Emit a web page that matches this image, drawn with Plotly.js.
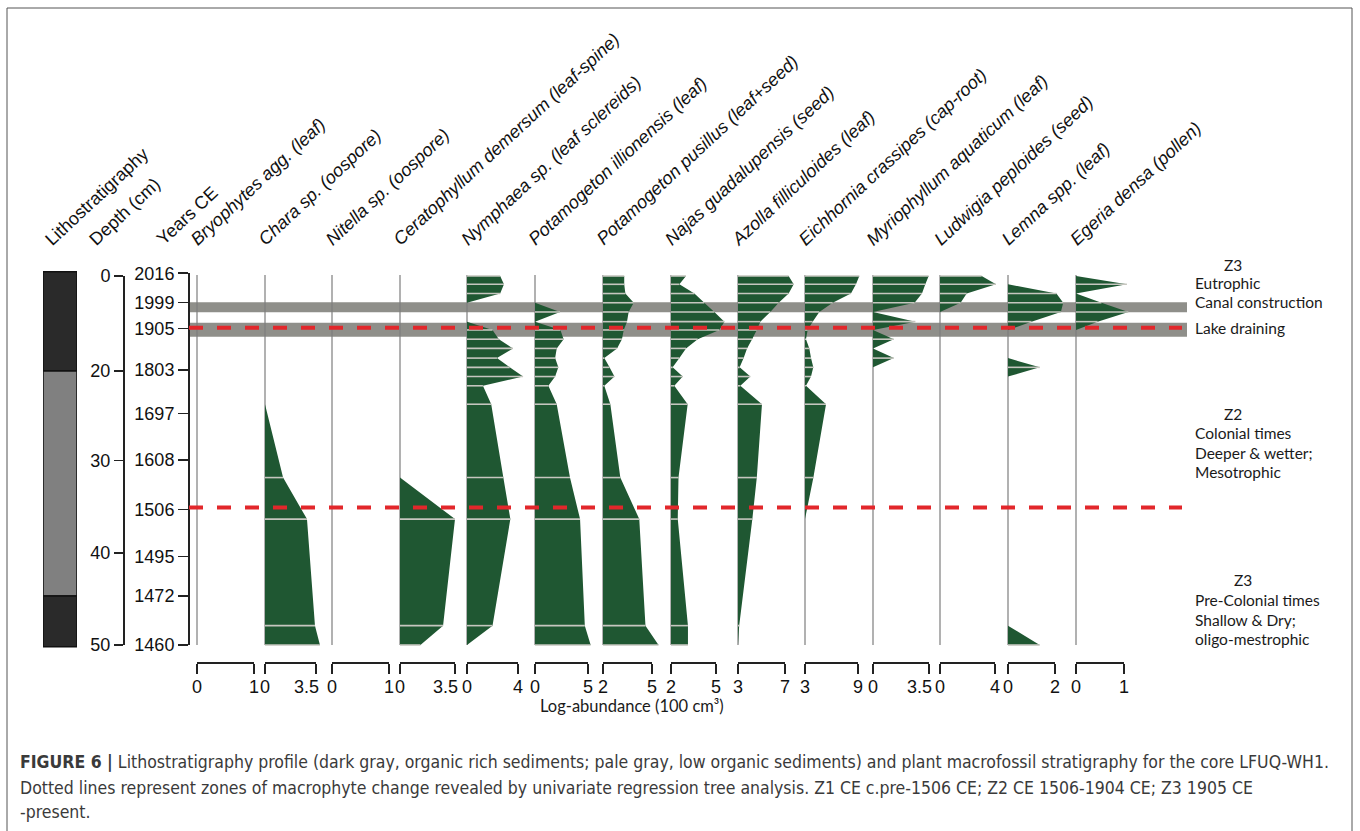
<!DOCTYPE html>
<html><head><meta charset="utf-8">
<script src="https://cdn.plot.ly/plotly-3.0.1.min.js"></script>
<style>html,body{margin:0;padding:0;background:#fff}#chart{width:1360px;height:831px}</style>
</head><body><div id="chart"></div>
<script>
// ---------------- DATA ----------------
// plotted depth position of each sample (chart units, 0 = top of core, 40 = base)
const sampleDepth = [0, 0.9, 1.9, 2.9, 3.9, 4.95, 5.85, 6.85, 7.85, 8.9, 9.9, 10.9, 11.9, 13.9, 21.85, 26.35, 37.9, 40];

const taxa = [
  'Bryophytes agg. (leaf)', 'Chara sp. (oospore)', 'Nitella sp. (oospore)',
  'Ceratophyllum demersum (leaf-spine)', 'Nymphaea sp. (leaf sclereids)',
  'Potamogeton illionensis (leaf)', 'Potamogeton pusillus (leaf+seed)',
  'Najas guadalupensis (seed)', 'Azolla filliculoides (leaf)',
  'Eichhornia crassipes (cap-root)', 'Myriophyllum aquaticum (leaf)',
  'Ludwigia peploides (seed)', 'Lemna spp. (leaf)', 'Egeria densa (pollen)'
];
const scaleMin = [0, 0, 0, 0, 0, 0, 2, 2, 3, 3, 0, 0, 0, 0];
const scaleMax = [1, 3.5, 1, 3.5, 4, 5, 5, 5, 7, 9, 3.5, 4, 2, 1];
const scaleMinLabel = ['0','0','0','0','0','0','2','2','3','3','0','0','0','0'];
const scaleMaxLabel = ['1','3.5','1','3.5','4','5','5','5','7','9','3.5','4','2','1'];

// log-abundance at each sample depth
const bryophytes    = [0,0,0,0,0,0,0,0,0,0,0,0,0,0,0,0,0,0];
const chara         = [0,0,0,0,0,0,0,0,0,0,0,0,0,0,1.24,2.88,3.43,3.77];
const nitella       = [0,0,0,0,0,0,0,0,0,0,0,0,0,0,0,0,0,0];
const ceratophyllum = [0,0,0,0,0,0,0,0,0,0,0,0,0,0,0,3.5,2.74,1.3];
const nymphaea      = [2.6,2.9,2.6,0,0,0,2.0,2.5,3.6,2.35,3.35,4.4,1.25,1.9,2.85,3.4,2.0,0];
const pIllionensis  = [0,0,0,0,2.36,0,2.4,2.7,2.05,1.9,2.2,1.9,1.26,2.05,3.3,4.25,4.7,5.25];
const pPusillus     = [3.3,3.3,3.37,3.88,3.57,3.47,3.27,3.16,2.86,2.08,2.4,2.7,2.08,2.45,3.06,4.22,4.6,5.4];
const najas         = [3.0,2.56,3.56,4.22,4.89,5.56,5.22,3.78,3.0,2.56,2.11,2.78,2.22,3.11,2.5,2.45,3.13,3.13];
const azolla        = [7.31,7.74,7.31,6.46,5.75,4.9,4.6,4.2,3.77,3.48,3.14,4.05,3.2,5.04,4.6,4.22,3.1,3.0];
const eichhornia    = [9.15,8.77,8.2,6.13,4.62,3.87,3.3,3.11,3.49,3.68,3.94,3.68,3.11,5.38,3.95,3.0,3.0,3.0];
const myriophyllum  = [3.48,3.27,3.06,2.6,0,2.65,0,1.3,0,1.3,0,0,0,0,0,0,0,0];
const ludwigia      = [3.03,4.07,1.94,1.5,0,0,0,0,0,0,0,0,0,0,0,0,0,0];
const lemna         = [0,0,2.06,2.35,2.25,1.0,0,0,0,0,1.35,0,0,0,0,0,0,1.35];
const egeria        = [0,1.06,0,0.53,1.09,0.45,0,0,0,0,0,0,0,0,0,0,0,0];
const taxonValues = [bryophytes, chara, nitella, ceratophyllum, nymphaea, pIllionensis, pPusillus,
  najas, azolla, eichhornia, myriophyllum, ludwigia, lemna, egeria];

// depth axis ticks (cm) and age ticks (years CE)
const depthTickPos = [0, 10.3, 20, 30, 40];
const depthLabels  = ['0', '20', '30', '40', '50'];
const yearTickPos  = [-0.3, 2.89, 5.67, 10.2, 14.9, 19.95, 25.3, 30.4, 34.7, 40];
const yearLabels   = ['2016','1999','1905','1803','1697','1608','1506','1495','1472','1460'];

// lithostratigraphy units
const lithoTop    = [-0.45, 10.3, 34.7];
const lithoBottom = [10.3, 34.7, 40.2];
const lithoType   = ['organic', 'low organic', 'organic'];

// events (grey bands) and zone boundaries (red dashed)
const eventTop    = [2.85, 5.06];
const eventBottom = [3.93, 6.58];
const zoneBoundary = [5.6, 25.1];

const zoneText = [
  ['Z3', 'center', 1233, 265], ['Eutrophic', 'left', 1193, 283], ['Canal construction', 'left', 1193, 302],
  ['Lake draining', 'left', 1193, 328], ['Z2', 'center', 1233, 414], ['Colonial times', 'left', 1193, 433],
  ['Deeper & wetter;', 'left', 1193, 453], ['Mesotrophic', 'left', 1193, 472],
  ['Z3', 'center', 1243, 580], ['Pre-Colonial times', 'left', 1193, 600], ['Shallow & Dry;', 'left', 1193, 620],
  ['oligo-mestrophic', 'left', 1193, 639]
];

// ---------------- LAYOUT ----------------
const W = 1360, H = 831;
const fx = p => p / W;
const fy = p => 1 - p / H;
const Y0PX = 276, PXU = 9.225;
const yAt = p => (p - Y0PX) / PXU;

const panelBase = [197, 265, 332, 400, 467, 535, 603, 671, 738, 805, 873, 940, 1008, 1076];
const panelEnd  = [254, 316, 389, 455, 518, 588, 652, 716, 785, 858, 929, 995, 1055, 1124];

const GREEN = '#1f5732';
const ARIAL = 'Liberation Sans, Arial, sans-serif';
const MYRIAD = 'Lato, Open Sans, sans-serif';
const CAPF = 'Liberation Sans Narrow, DejaVu Sans Condensed, Liberation Sans, sans-serif';
const lithoStyle = {'organic': '#2a2a2a', 'low organic': '#808080'};

const traces = [];
const layout = {
  width: W, height: H, margin: {l: 0, r: 0, t: 0, b: 0},
  paper_bgcolor: '#fff', plot_bgcolor: 'rgba(0,0,0,0)',
  showlegend: false, hovermode: false, barmode: 'overlay',
  shapes: [], annotations: []
};

const BOT = 663, TOP = 271;
layout.yaxis = {domain: [fy(BOT), fy(TOP)], range: [yAt(BOT), yAt(TOP)], visible: false, fixedrange: true};

// outer frame
layout.shapes.push({type: 'rect', xref: 'paper', yref: 'paper', x0: fx(7), x1: fx(1352), y0: fy(835), y1: fy(8),
  line: {color: '#555', width: 1}, layer: 'below'});
// event bands
eventTop.forEach((t, i) => layout.shapes.push({type: 'rect', xref: 'paper', yref: 'y', x0: fx(190), x1: fx(1187),
  y0: t, y1: eventBottom[i], fillcolor: '#8f8f8a', line: {width: 0}, layer: 'below'}));

taxa.forEach((name, i) => {
  const k = i + 1, xa = k === 1 ? 'x' : 'x' + k, axKey = k === 1 ? 'xaxis' : 'xaxis' + k;
  const lo = scaleMin[i], hi = scaleMax[i], vals = taxonValues[i];
  const b = panelBase[i], e = panelEnd[i];
  const ppu = (e - b) / (hi - lo);
  const right = (i < taxa.length - 1 ? panelBase[i + 1] - 4 : b + 62);
  layout[axKey] = {
    domain: [fx(b - 3), fx(right)], range: [lo - 3 / ppu, lo + (right - b) / ppu], anchor: 'y',
    showgrid: false, zeroline: false, showline: false, fixedrange: true, showticklabels: false,
    ticks: 'outside', ticklen: 10, tickwidth: 2, tickcolor: '#222',
    tickmode: 'array', tickvals: [lo, hi]
  };
  const n = sampleDepth.length;
  traces.push({type: 'scatter', xaxis: xa, yaxis: 'y', mode: 'none', fill: 'toself', fillcolor: GREEN,
    x: [lo].concat(vals, [lo]), y: [sampleDepth[0]].concat(sampleDepth, [sampleDepth[n - 1]]), hoverinfo: 'skip'});
  const lx = [], ly = [];
  vals.forEach((v, j) => { if (v > lo) { lx.push(lo, v, null); ly.push(sampleDepth[j], sampleDepth[j], null); } });
  if (lx.length) traces.push({type: 'scatter', xaxis: xa, yaxis: 'y', mode: 'lines', x: lx, y: ly,
    line: {color: '#c6c6bf', width: 1.6}, hoverinfo: 'skip'});
  // baseline
  layout.shapes.push({type: 'line', xref: xa, yref: 'y', x0: lo, x1: lo, y0: sampleDepth[0] - 0.1, y1: sampleDepth[n - 1],
    line: {color: '#7d7d7d', width: 1.2}, layer: 'below'});
  // scale bracket
  layout.shapes.push({type: 'line', xref: xa, yref: 'paper', x0: lo, x1: hi, y0: fy(BOT), y1: fy(BOT),
    line: {color: '#222', width: 2}});
  // scale labels
  layout.annotations.push({xref: xa, yref: 'paper', x: lo, y: fy(687), xanchor: 'center', yanchor: 'middle',
    text: scaleMinLabel[i], showarrow: false, font: {family: ARIAL, size: 18, color: '#111'}});
  const long = scaleMaxLabel[i].length > 1;
  layout.annotations.push({xref: xa, yref: 'paper', x: hi, y: fy(687), xanchor: long ? 'right' : 'center', xshift: long ? 5 : 0,
    yanchor: 'middle', text: scaleMaxLabel[i], showarrow: false, font: {family: ARIAL, size: 18, color: '#111'}});
  // header
  layout.annotations.push({xref: 'paper', yref: 'paper', x: fx(b - 13), y: fy(252), xanchor: 'left', yanchor: 'bottom',
    text: '<i>' + name + '</i>', textangle: -43, showarrow: false, font: {family: ARIAL, size: 18, color: '#111'}});
});

// red dashed zone boundaries
zoneBoundary.forEach(z => layout.shapes.push({type: 'line', xref: 'paper', yref: 'y', x0: fx(189), x1: fx(1182), y0: z, y1: z,
  line: {color: '#e2272b', width: 4, dash: '14px,14px'}, layer: 'above'}));

// lithostratigraphy column
lithoTop.forEach((t, i) => traces.push({type: 'bar', xaxis: 'x15', yaxis: 'y', x: [0], y: [lithoBottom[i] - t], base: [t], width: [1],
  marker: {color: lithoStyle[lithoType[i]], line: {color: '#111', width: 1.5}}, hoverinfo: 'skip'}));
layout.xaxis15 = {domain: [fx(43), fx(77)], range: [-0.5, 0.5], anchor: 'y', visible: false, fixedrange: true};

// depth and age axes
const yAxCommon = {anchor: 'free', side: 'left', showgrid: false, zeroline: false, showline: true, linecolor: '#222', linewidth: 1.5,
  ticks: 'outside', tickwidth: 1.5, tickcolor: '#222', tickmode: 'array', tickfont: {family: ARIAL, size: 18, color: '#111'}, fixedrange: true};
layout.yaxis2 = Object.assign({}, yAxCommon, {domain: [fy(645), fy(276)], range: [40, 0], position: fx(123), ticklen: 9,
  tickvals: depthTickPos, ticktext: depthLabels});
layout.yaxis3 = Object.assign({}, yAxCommon, {domain: [fy(645), fy(273)], range: [40, yAt(273)], position: fx(188), ticklen: 10,
  tickvals: yearTickPos, ticktext: yearLabels});
layout.xaxis16 = {domain: [0.001, 0.002], range: [0, 1], anchor: 'y2', visible: false, fixedrange: true};
traces.push({type: 'scatter', xaxis: 'x16', yaxis: 'y2', x: depthTickPos.map(() => 0.5), y: depthTickPos, mode: 'markers', marker: {opacity: 0}, hoverinfo: 'skip'});
traces.push({type: 'scatter', xaxis: 'x16', yaxis: 'y3', x: yearTickPos.map(() => 0.5), y: yearTickPos, mode: 'markers', marker: {opacity: 0}, hoverinfo: 'skip'});

// left headers
[['Lithostratigraphy', 38], ['Depth (cm)', 82], ['Years CE', 150]].forEach(h => layout.annotations.push({
  xref: 'paper', yref: 'paper', x: fx(h[1]), y: fy(252), xanchor: 'left', yanchor: 'bottom', text: h[0], textangle: -43,
  showarrow: false, font: {family: ARIAL, size: 18, color: '#111'}}));

// zone texts
zoneText.forEach(z => layout.annotations.push({xref: 'paper', yref: 'paper', x: fx(z[2]), y: fy(z[3]), xanchor: z[1], yanchor: 'middle',
  text: z[0], showarrow: false, font: {family: MYRIAD, size: 15.5, color: '#1a1a1a'}}));

// x-axis title
layout.annotations.push({xref: 'paper', yref: 'paper', x: fx(632), y: fy(706), xanchor: 'center', yanchor: 'middle',
  text: 'Log-abundance (100 cm³)', showarrow: false, font: {family: MYRIAD, size: 16.5, color: '#1a1a1a'}});

// caption
const caption = [
  '<b>FIGURE 6 |</b> Lithostratigraphy profile (dark gray, organic rich sediments; pale gray, low organic sediments) and plant macrofossil stratigraphy for the core LFUQ-WH1.',
  'Dotted lines represent zones of macrophyte change revealed by univariate regression tree analysis. Z1 CE c.pre-1506 CE; Z2 CE 1506-1904 CE; Z3 1905 CE',
  '-present.'
];
[762, 788, 812].forEach((y, i) => layout.annotations.push({xref: 'paper', yref: 'paper', x: fx(18), y: fy(y), xanchor: 'left', yanchor: 'middle',
  text: caption[i], showarrow: false, font: {family: CAPF, size: 17.5, color: '#3a3a3a'}}));

Plotly.newPlot('chart', traces, layout, {staticPlot: true, displayModeBar: false});
</script></body></html>
